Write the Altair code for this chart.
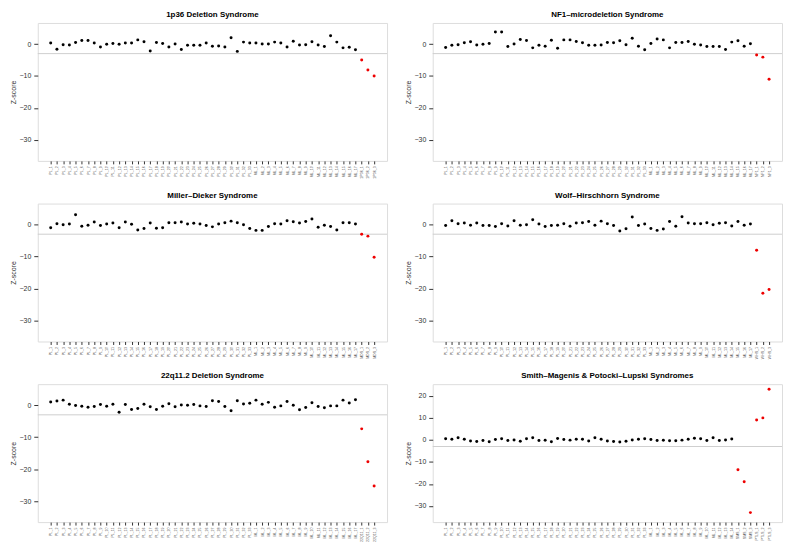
import altair as alt
import pandas as pd

# ---------------- data ----------------
ctrl_labels = ["PL_%d" % i for i in range(1, 34)] + ["ML_%d" % i for i in range(1, 18)]

titles = [
    "1p36 Deletion Syndrome",
    "NF1\u2013microdeletion Syndrome",
    "Miller\u2013Dieker Syndrome",
    "Wolf\u2013Hirschhorn Syndrome",
    "22q11.2 Deletion Syndrome",
    "Smith\u2013Magenis & Potocki\u2013Lupski Syndromes",
]

ctrl_1p36 = [0.3, -1.6, -0.2, -0.3, 0.5, 1.1, 1.1, 0.3, -0.9, -0.1,
             0.2, -0.1, 0.3, 0.3, 1.3, 0.7, -2.2, 0.5, 0.2, -0.9,
             0.0, -1.7, -0.4, -0.4, -0.4, 0.3, -0.7, -0.6, -0.9, 2.0,
             -2.3, 0.6, 0.3, 0.3, 0.0, 0.0, 0.6, 0.3, -0.9, 0.9,
             -0.3, -0.2, 0.7, -0.3, -0.8, 2.6, 0.6, -1.2, -1.0, -1.8]
case_1p36 = [-5.0, -8.1, -10.0]
lab_1p36 = ["1P36_1", "1P36_2", "1P36_3"]

ctrl_nf1 = [-1.1, -0.4, -0.2, 0.4, 0.7, -0.3, -0.1, 0.2, 3.8, 3.8,
            -0.8, 0.0, 1.4, 1.1, -1.2, -0.4, -0.7, 1.2, -1.3, 1.3,
            1.3, 0.8, 0.4, -0.4, -0.4, -0.3, 0.5, 0.4, 1.0, -0.2,
            1.8, -0.7, -1.8, 0.2, 1.6, 1.3, -1.2, 0.5, 0.5, 0.8,
            -0.1, -0.3, -0.8, -0.8, -0.8, -1.7, 0.6, 1.0, -0.7, 0.1]
case_nf1 = [-3.4, -4.1, -11.0]
lab_nf1 = ["NF1_1", "NF1_2", "NF1_3"]

ctrl_mds = [-1.0, 0.3, 0.0, 0.2, 3.1, -0.5, -0.2, 0.8, -0.3, 0.2,
            0.5, -1.0, 0.8, 0.1, -1.7, -1.2, 0.5, -1.1, -1.0, 0.6,
            0.6, 0.8, 0.2, 0.4, 0.2, -0.3, -0.7, 0.2, 0.6, 1.1,
            0.6, 0.0, -1.2, -1.8, -1.8, -0.6, 0.3, 0.2, 1.2, 0.9,
            0.5, 1.0, 1.8, -0.8, -0.2, -0.6, -1.7, 0.6, 0.6, 0.2]
case_mds = [-3.0, -3.6, -10.2]
lab_mds = ["MDS_1", "MDS_2", "MDS_3"]

ctrl_whs = [-0.3, 1.2, 0.3, 0.5, -0.2, 0.5, -0.3, -0.3, -0.6, 0.3,
            -0.4, 1.2, -0.2, 0.0, 1.5, 0.2, -0.6, -0.3, -0.2, 0.3,
            -0.5, 0.5, 0.6, 1.0, -0.2, 1.1, 0.3, -0.3, -2.0, -1.3,
            2.4, -0.3, 0.2, -1.2, -1.8, -1.4, 1.0, -0.5, 2.5, 0.5,
            0.3, 0.3, 0.6, 0.0, 0.4, 0.6, -0.4, 1.0, -0.2, 0.2]
case_whs = [-8.0, -21.5, -20.3]
lab_whs = ["WHS_1", "WHS_2", "WHS_3"]

ctrl_22q = [1.0, 1.3, 1.6, 0.3, -0.1, -0.3, -0.6, -0.4, 0.2, -0.3,
            0.3, -2.2, 0.2, -1.3, -1.0, 0.3, -0.5, -1.3, -0.3, 0.5,
            -0.5, 0.1, 0.0, 0.2, -0.2, -0.4, 1.4, 1.2, -0.4, -1.7,
            1.4, 0.4, 0.6, 1.6, 0.3, 0.9, -0.6, -0.2, 1.2, 0.0,
            -1.4, -0.7, 0.8, -0.4, -0.8, -0.2, -0.2, 1.6, 0.7, 1.7]
case_22q = [-7.4, -17.7, -25.3]
lab_22q = ["22Q11_1", "22Q11_2", "22Q11_3"]

ctrl_sms = [0.5, 0.3, 1.0, 0.3, -0.5, -0.7, -0.3, -0.8, 0.2, 0.5,
            -0.3, 0.0, -0.6, 0.5, 1.0, -0.3, -0.2, -0.8, 0.6, 0.2,
            -0.1, 0.3, 0.3, -0.5, 1.0, 0.3, -0.5, -0.7, -0.9, -0.6,
            0.0, 0.3, 0.5, 0.2, -0.3, -0.2, -0.4, -0.4, -0.1, 0.3,
            0.8, 0.5, -0.3, 1.0, -0.3, 0.0, 0.4]
case_sms = [-13.5, -19.0, -33.0, 9.0, 10.0, 23.0]
lab_sms = ["SMS_1", "SMS_2", "SMS_3", "PTLS_1", "PTLS_2", "PTLS_3"]

ydom_main = [-36.6, 6.6]
yticks_main = [-30, -20, -10, 0]
ydom_sms = [-37.3, 25.3]
yticks_sms = [-30, -20, -10, 0, 10, 20]

# ---------------- layout ----------------
W, H = 352, 139
FONT = "Liberation Sans"


def panel(title, ctrl, case, case_lab, ydom, yticks):
    labels = ctrl_labels[:len(ctrl)] + case_lab
    n = len(labels)
    df = pd.DataFrame({
        "i": list(range(1, n + 1)),
        "z": ctrl + case,
        "lab": labels,
        "grp": ["ctrl"] * len(ctrl) + ["case"] * len(case),
    })
    ext = 0.04 * (n - 1)
    arr = "[" + ",".join("'%s'" % l for l in labels) + "]"
    yscale = alt.Scale(domain=ydom, nice=False, zero=False)
    yaxis = alt.Axis(values=yticks, title="Z-score", grid=False, domain=False,
                     tickSize=4, tickColor="#333", labelFontSize=7, labelColor="#333",
                     labelPadding=3, titleFontSize=7, titleFontWeight="normal",
                     titleColor="#333", titlePadding=3, labelFont=FONT, titleFont=FONT,
                     labelOverlap=False, labelFlush=False)
    x = alt.X("i:Q",
              scale=alt.Scale(domain=[1 - ext, n + ext], nice=False, zero=False),
              axis=alt.Axis(values=list(range(1, n + 1)), labelExpr=arr + "[datum.value - 1]",
                            labelAngle=270, labelFontSize=3.6, labelColor="#555",
                            tickSize=3, tickColor="#333", labelPadding=2,
                            domain=False, grid=False, title=None, labelBaseline="middle",
                            labelAlign="right", labelFont=FONT, labelOverlap=False))
    rule = alt.Chart(pd.DataFrame({"z": [-3]})).mark_rule(
        color="#cfcfcf", strokeWidth=1).encode(y=alt.Y("z:Q", scale=yscale, axis=yaxis))
    pts = alt.Chart(df).mark_circle(size=9, opacity=1).encode(
        x=x, y=alt.Y("z:Q", scale=yscale, axis=yaxis),
        color=alt.Color("grp:N", scale=alt.Scale(domain=["ctrl", "case"], range=["#000000", "#ee0000"]),
                        legend=None))
    return alt.layer(rule, pts).properties(
        width=W, height=H,
        title=alt.TitleParams(title, fontSize=8, fontWeight="bold", font=FONT, offset=4, color="#000"))


p = [
    panel(titles[0], ctrl_1p36, case_1p36, lab_1p36, ydom_main, yticks_main),
    panel(titles[1], ctrl_nf1, case_nf1, lab_nf1, ydom_main, yticks_main),
    panel(titles[2], ctrl_mds, case_mds, lab_mds, ydom_main, yticks_main),
    panel(titles[3], ctrl_whs, case_whs, lab_whs, ydom_main, yticks_main),
    panel(titles[4], ctrl_22q, case_22q, lab_22q, ydom_main, yticks_main),
    panel(titles[5], ctrl_sms, case_sms, lab_sms, ydom_sms, yticks_sms),
]

chart = alt.vconcat(
    alt.hconcat(p[0], p[1], spacing=15),
    alt.hconcat(p[2], p[3], spacing=15),
    alt.hconcat(p[4], p[5], spacing=15),
    spacing=12,
).resolve_scale(color="independent").properties(
    padding={"left": 0, "top": 0, "right": 0, "bottom": 0}
).configure_view(stroke="#444", strokeWidth=1.2).configure(background="white")

chart.save("out.html", embed_options={"renderer": "svg", "actions": False})
